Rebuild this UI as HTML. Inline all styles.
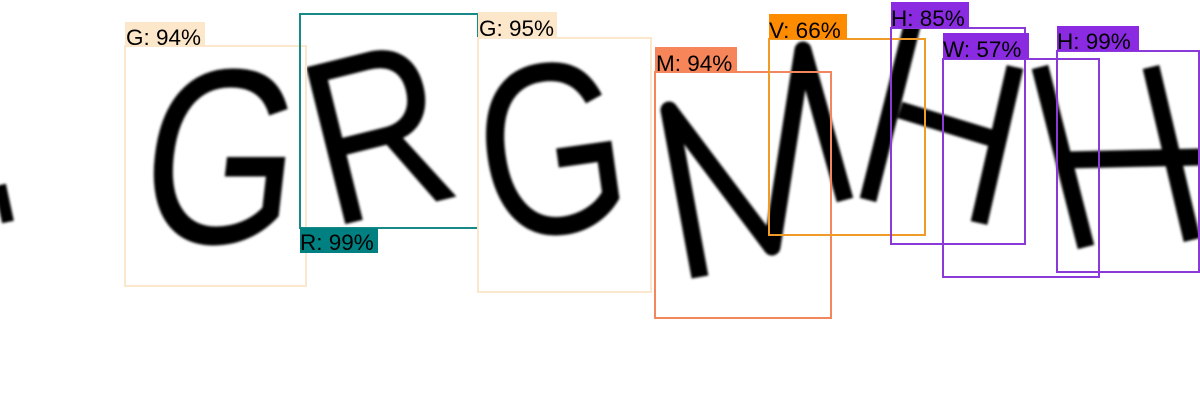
<!DOCTYPE html>
<html><head><meta charset="utf-8"><style>
html,body{margin:0;padding:0;background:#fff;width:1200px;height:420px;overflow:hidden}
svg{display:block}
text.l{font-family:"Liberation Sans",sans-serif;font-size:22.5px;fill:#000}
text.g{font-family:"Liberation Sans",sans-serif;fill:#000}
</style></head><body>
<svg width="1200" height="420" viewBox="0 0 1200 420">
<defs><filter id="bl"><feGaussianBlur stdDeviation="1.3"/></filter></defs>
<g filter="url(#bl)">
<path d="M0,185 L8,222" stroke="#000" stroke-width="12" fill="none"/>
<text class="g" transform="translate(135,243) scale(0.8,1) skewX(-8)" font-size="250">G</text>
<text class="g" transform="translate(330,228) rotate(-14) scale(0.82,1)" font-size="235">R</text>
<text class="g" transform="translate(490,243) rotate(-8) scale(0.78,1)" font-size="245">G</text>
<polyline points="700,277 669,110 772,247 803,50 845,200" fill="none" stroke="#000" stroke-width="17" stroke-linejoin="round"/>
<polyline points="868,200 916,10" fill="none" stroke="#000" stroke-width="17"/>
<polyline points="900,110 998,140" fill="none" stroke="#000" stroke-width="17"/>
<polyline points="979,223 1015,67" fill="none" stroke="#000" stroke-width="17"/>
<polyline points="1040,67 1086,247" fill="none" stroke="#000" stroke-width="17"/>
<polyline points="1067,160 1200,157" fill="none" stroke="#000" stroke-width="17"/>
<polyline points="1151,67 1192,240" fill="none" stroke="#000" stroke-width="17"/>
</g>
<g fill="none" stroke-width="2">
<rect x="125" y="46" width="181" height="240" stroke="#fbe8cc"/>
<rect x="300" y="14" width="178" height="214" stroke="#178a87"/>
<rect x="478" y="38" width="173" height="254" stroke="#fbe8cc"/>
<rect x="655" y="72" width="176" height="246" stroke="#f2865c"/>
<rect x="769" y="39" width="156" height="196" stroke="#f09a28"/>
<rect x="891" y="28" width="134" height="216" stroke="#8a3ad8"/>
<rect x="943" y="59" width="156" height="218" stroke="#8a3ad8"/>
<rect x="1057" y="51" width="142" height="221" stroke="#8a3ad8"/>
</g>
<g>
<rect x="125" y="22" width="80" height="24" fill="#fce7cb"/><text class="l" x="126" y="45">G: 94%</text>
<rect x="300" y="228" width="78" height="25" fill="#008080"/><text class="l" x="300" y="250">R: 99%</text>
<rect x="478" y="12" width="79" height="26" fill="#fce7cb"/><text class="l" x="479" y="36">G: 95%</text>
<rect x="655" y="47" width="82" height="25" fill="#f6855a"/><text class="l" x="656" y="71">M: 94%</text>
<rect x="769" y="14" width="78" height="25" fill="#ff8c00"/><text class="l" x="769" y="38">V: 66%</text>
<rect x="891" y="2" width="78" height="26" fill="#8a2be2"/><text class="l" x="891" y="26">H: 85%</text>
<rect x="943" y="33" width="86" height="26" fill="#8a2be2"/><text class="l" x="943" y="57">W: 57%</text>
<rect x="1057" y="26" width="82" height="25" fill="#8a2be2"/><text class="l" x="1057" y="49">H: 99%</text>
</g>
</svg>
</body></html>
